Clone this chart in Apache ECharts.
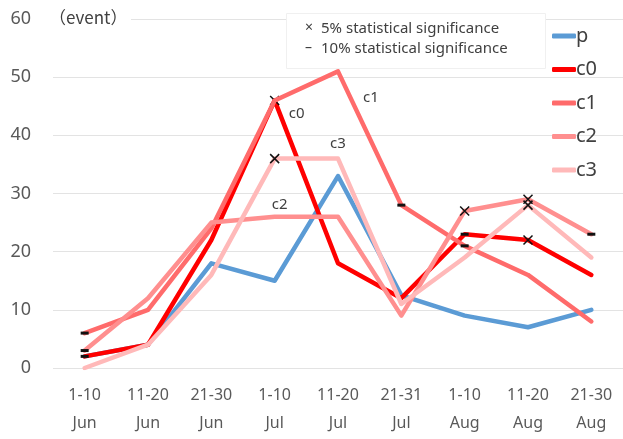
<!DOCTYPE html>
<html>
<head>
<meta charset="utf-8">
<script src="https://cdn.jsdelivr.net/npm/echarts@6/dist/echarts.min.js"></script>
<style>html,body{margin:0;padding:0;background:#fff}#chart{width:623px;height:439px}</style>
</head>
<body>
<div id="chart"></div>
<script>
var categories = ['1-10\nJun','11-20\nJun','21-30\nJun','1-10\nJul','11-20\nJul','21-31\nJul','1-10\nAug','11-20\nAug','21-30\nAug'];
var seriesNames = ['p','c0','c1','c2','c3'];
var pValues  = [2, 4, 18, 15, 33, 12.5, 9, 7, 10];
var c0Values = [2, 4, 22, 46, 18, 12, 23, 22, 16];
var c1Values = [6, 10, 24, 46, 51, 28, 21, 16, 8];
var c2Values = [3, 12, 25, 26, 26, 9, 27, 29, 23];
var c3Values = [0, 4, 16, 36, 36, 11, 19, 28, 19];
// significance markers: 'x' = 5%, '-' = 10%, '' = none
var c0Marks = ['-','','','x','','','-','x',''];
var c1Marks = ['-','','','','','-','-','',''];
var c2Marks = ['-','','','','','','x','x','-'];
var c3Marks = ['','','','x','','','','x',''];
var pMarks  = ['','','','','','','','',''];
var yTicks = [0,10,20,30,40,50,60];

var colors = ['#5B9BD5','#FF0000','#FF6B6B','#FF8F8F','#FFB9B9'];
var FONT = '"Noto Sans", "Noto Sans CJK JP", sans-serif';
var CROSS = 'path://M0,0L10,10M10,0L0,10';

// label annotations: series index -> {categoryIndex, offset}
var seriesLabels = {
  1: {i: 3, offset: [22, 13]},
  2: {i: 4, offset: [33, 26]},
  3: {i: 3, offset: [5, -12]},
  4: {i: 4, offset: [0, -15]}
};

function buildData(values, marks, sIdx) {
  return values.map(function (v, i) {
    var item = {value: v, symbol: 'none'};
    if (marks[i] === 'x') {
      item.symbol = CROSS;
      item.symbolSize = 9;
      item.itemStyle = {color: 'rgba(0,0,0,0)', borderColor: '#111', borderWidth: 1.5};
    } else if (marks[i] === '-') {
      item.symbol = 'rect';
      item.symbolSize = [8, 3];
      item.itemStyle = {color: '#111', borderWidth: 0};
    }
    var lab = seriesLabels[sIdx];
    if (lab && lab.i === i) {
      if (item.symbol === 'none') {
        item.symbol = 'circle';
        item.symbolSize = 1;
        item.itemStyle = {color: 'rgba(0,0,0,0)', borderWidth: 0};
      }
      item.label = {
        show: true, position: 'inside', offset: lab.offset,
        formatter: seriesNames[sIdx], color: '#404040', fontSize: 15, fontFamily: FONT
      };
    }
    return item;
  });
}

var allValues = [pValues, c0Values, c1Values, c2Values, c3Values];
var allMarks = [pMarks, c0Marks, c1Marks, c2Marks, c3Marks];

var series = seriesNames.map(function (name, s) {
  return {
    name: name,
    type: 'line',
    data: buildData(allValues[s], allMarks[s], s),
    showSymbol: true,
    showAllSymbol: true,
    symbol: 'none',
    lineStyle: {width: 4.5, color: colors[s], cap: 'round', join: 'round'},
    itemStyle: {color: colors[s]},
    emphasis: {disabled: true},
    silent: true,
    animation: false,
    z: 2 + s
  };
});

var chart = echarts.init(document.getElementById('chart'), null, {renderer: 'canvas'});
chart.setOption({
  animation: false,
  color: colors,
  textStyle: {fontFamily: FONT},
  grid: {left: 53, width: 572, top: 19, bottom: 71, containLabel: false},
  xAxis: {
    type: 'category',
    data: categories,
    boundaryGap: true,
    axisLine: {show: false},
    axisTick: {show: false},
    splitLine: {show: false},
    axisLabel: {color: '#595959', fontSize: 16, lineHeight: 28, margin: 13, fontFamily: FONT, interval: 0}
  },
  yAxis: {
    type: 'value',
    min: yTicks[0],
    max: yTicks[yTicks.length - 1],
    interval: 10,
    axisLine: {show: false},
    axisTick: {show: false},
    splitLine: {lineStyle: {color: '#E3E3E3', width: 1}},
    axisLabel: {color: '#595959', fontSize: 18, margin: 22, fontFamily: FONT}
  },
  legend: {
    orient: 'vertical',
    left: 547,
    top: 21,
    icon: 'roundRect',
    itemWidth: 24,
    itemHeight: 5,
    itemGap: 13.5,
    data: seriesNames,
    textStyle: {color: '#404040', fontSize: 20, fontFamily: FONT, padding: [0, 0, 0, -5]},
    selectedMode: false
  },
  graphic: [
    {
      type: 'rect', left: 49, top: 8, z: 10,
      shape: {width: 82, height: 22},
      style: {fill: '#fff'}
    },
    {
      type: 'text', left: 49, top: 9, z: 11,
      style: {text: '（event）', fill: '#404040', font: '17px "Noto Sans CJK JP", "Noto Sans", sans-serif'}
    },
    {
      type: 'rect', left: 286, top: 13, z: 10,
      shape: {width: 259, height: 55},
      style: {fill: '#fff', stroke: '#F0F0F0', lineWidth: 1}
    },
    {
      type: 'text', left: 305, top: 21, z: 11,
      style: {text: '×', fill: '#404040', font: '14px "Noto Sans", sans-serif'}
    },
    {
      type: 'text', left: 321, top: 21, z: 11,
      style: {text: '5% statistical significance', fill: '#404040', font: '15px "Noto Sans", sans-serif'}
    },
    {
      type: 'text', left: 305, top: 41, z: 11,
      style: {text: '–', fill: '#404040', font: '14px "Noto Sans", sans-serif'}
    },
    {
      type: 'text', left: 321, top: 41, z: 11,
      style: {text: '10% statistical significance', fill: '#404040', font: '15px "Noto Sans", sans-serif'}
    }
  ],
  series: series
});
</script>
</body>
</html>
